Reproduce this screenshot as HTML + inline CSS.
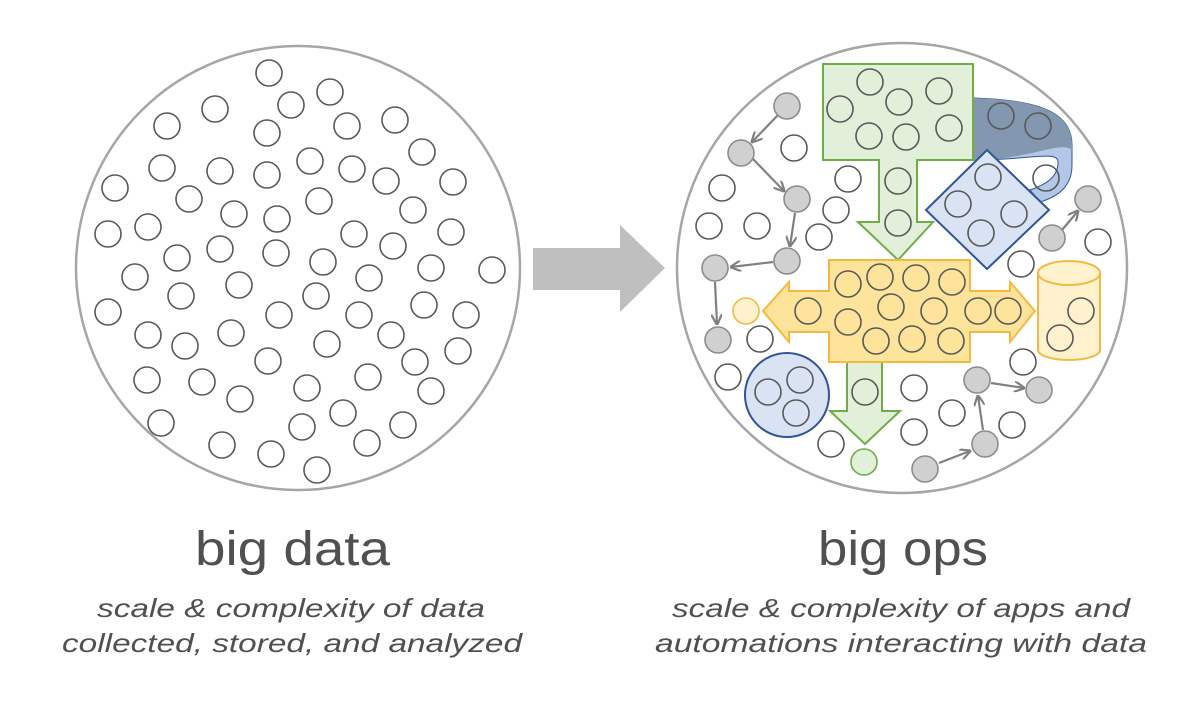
<!DOCTYPE html>
<html><head><meta charset="utf-8"><style>
html,body{margin:0;padding:0;background:#fff;}
svg{display:block;}
</style></head><body>
<svg width="1200" height="702" viewBox="0 0 1200 702" xmlns="http://www.w3.org/2000/svg">
<defs>
<marker id="ah" viewBox="0 0 10 10" refX="9" refY="5" markerWidth="5" markerHeight="5" orient="auto"><path d="M0,0 L10,5 L0,10" fill="none" stroke="#808080" stroke-width="2"/></marker>
</defs>
<circle cx="298" cy="268" r="222" fill="#fff" stroke="#a6a6a6" stroke-width="2.5"/>
<g fill="none" stroke="#595959" stroke-width="1.6">
<circle cx="269" cy="73" r="13"/><circle cx="330" cy="92" r="13"/><circle cx="291" cy="105" r="13"/><circle cx="215" cy="109" r="13"/><circle cx="167" cy="126" r="13"/><circle cx="267" cy="133" r="13"/><circle cx="347" cy="126" r="13"/><circle cx="395" cy="120" r="13"/><circle cx="422" cy="152" r="13"/><circle cx="162" cy="168" r="13"/><circle cx="220" cy="171" r="13"/><circle cx="267" cy="175" r="13"/><circle cx="310" cy="161" r="13"/><circle cx="352" cy="169" r="13"/><circle cx="386" cy="181" r="13"/><circle cx="453" cy="182" r="13"/><circle cx="115" cy="188" r="13"/><circle cx="189" cy="199" r="13"/><circle cx="234" cy="214" r="13"/><circle cx="277" cy="219" r="13"/><circle cx="319" cy="201" r="13"/><circle cx="413" cy="210" r="13"/><circle cx="108" cy="234" r="13"/><circle cx="148" cy="227" r="13"/><circle cx="451" cy="232" r="13"/><circle cx="354" cy="234" r="13"/><circle cx="393" cy="246" r="13"/><circle cx="177" cy="258" r="13"/><circle cx="220" cy="249" r="13"/><circle cx="276" cy="253" r="13"/><circle cx="323" cy="262" r="13"/><circle cx="431" cy="268" r="13"/><circle cx="492" cy="270" r="13"/><circle cx="135" cy="277" r="13"/><circle cx="369" cy="278" r="13"/><circle cx="239" cy="285" r="13"/><circle cx="181" cy="296" r="13"/><circle cx="316" cy="296" r="13"/><circle cx="108" cy="312" r="13"/><circle cx="424" cy="305" r="13"/><circle cx="466" cy="315" r="13"/><circle cx="279" cy="315" r="13"/><circle cx="359" cy="315" r="13"/><circle cx="148" cy="335" r="13"/><circle cx="185" cy="346" r="13"/><circle cx="231" cy="333" r="13"/><circle cx="327" cy="344" r="13"/><circle cx="391" cy="335" r="13"/><circle cx="458" cy="351" r="13"/><circle cx="268" cy="361" r="13"/><circle cx="415" cy="362" r="13"/><circle cx="147" cy="380" r="13"/><circle cx="202" cy="382" r="13"/><circle cx="307" cy="388" r="13"/><circle cx="368" cy="377" r="13"/><circle cx="431" cy="391" r="13"/><circle cx="240" cy="399" r="13"/><circle cx="161" cy="423" r="13"/><circle cx="343" cy="413" r="13"/><circle cx="302" cy="427" r="13"/><circle cx="403" cy="425" r="13"/><circle cx="222" cy="445" r="13"/><circle cx="271" cy="454" r="13"/><circle cx="367" cy="443" r="13"/><circle cx="317" cy="470" r="13"/>
</g>
<path d="M533,248 L620,248 L620,225 L665,268 L620,312 L620,290 L533,290 Z" fill="#bfbfbf"/>
<circle cx="902" cy="268" r="225" fill="#fff" stroke="#a6a6a6" stroke-width="2.5"/>
<!-- blue band -->
<path d="M973,98 C1045,100 1072,115 1072,145 L1072,165 C1072,185 1060,196 1040,202 L1030,190 C1050,183 1058,175 1058,162 C1058,150 1030,160 973,160 Z" fill="#b4c7e7" stroke="#2f5597" stroke-width="1"/>
<path d="M973,98 C1045,100 1072,115 1072,145 L1072,150 C1060,140 1030,160 973,160 Z" fill="#8497b0"/>
<g fill="none" stroke="#595959" stroke-width="1.6"><circle cx="1001" cy="116" r="13"/><circle cx="1038" cy="126" r="13"/><circle cx="1046" cy="178" r="13"/></g>
<path d="M823,64 L973,64 L973,160 L917,160 L917,222 L933,222 L898,260 L858,222 L879,222 L879,160 L823,160 Z" fill="#e2efd9" stroke="#70ad47" stroke-width="2"/>
<g fill="none" stroke="#595959" stroke-width="1.6"><circle cx="870" cy="82" r="13"/><circle cx="840" cy="109" r="13"/><circle cx="899" cy="102" r="13"/><circle cx="939" cy="91" r="13"/><circle cx="869" cy="136" r="13"/><circle cx="906" cy="137" r="13"/><circle cx="949" cy="128" r="13"/><circle cx="898" cy="181" r="13"/><circle cx="898" cy="223" r="13"/></g>
<path d="M987,150 L1049,210 L987,269 L926,210 Z" fill="#dae3f3" stroke="#2f5597" stroke-width="2"/>
<g fill="none" stroke="#595959" stroke-width="1.6"><circle cx="988" cy="177" r="13"/><circle cx="958" cy="204" r="13"/><circle cx="1014" cy="214" r="13"/><circle cx="981" cy="233" r="13"/></g>
<path d="M847,360 L882,360 L882,411 L900,411 L865,444 L830,411 L847,411 Z" fill="#e2efd9" stroke="#70ad47" stroke-width="2"/>
<circle cx="865" cy="392" r="13" fill="none" stroke="#595959" stroke-width="1.6"/>
<circle cx="864" cy="462" r="13" fill="#e2efd9" stroke="#70ad47" stroke-width="1.6"/>
<path d="M829,260 L970,260 L970,291 L1010,291 L1010,282 L1035,311 L1010,342 L1010,332 L970,332 L970,362 L829,362 L829,332 L789,332 L789,342 L763,311 L789,282 L789,291 L829,291 Z" fill="#fde49a" stroke="#f4b942" stroke-width="2"/>
<g fill="none" stroke="#595959" stroke-width="1.6"><circle cx="848" cy="284" r="13"/><circle cx="880" cy="277" r="13"/><circle cx="916" cy="278" r="13"/><circle cx="952" cy="282" r="13"/><circle cx="808" cy="311" r="13"/><circle cx="891" cy="307" r="13"/><circle cx="934" cy="311" r="13"/><circle cx="978" cy="311" r="13"/><circle cx="1008" cy="311" r="13"/><circle cx="848" cy="322" r="13"/><circle cx="876" cy="341" r="13"/><circle cx="912" cy="339" r="13"/><circle cx="951" cy="341" r="13"/></g>
<circle cx="746" cy="311" r="13" fill="#fff2cc" stroke="#f4b942" stroke-width="1.6"/>
<path d="M1038,273 L1038,350 A31,10 0 0 0 1100,350 L1100,273" fill="#fff2cc" stroke="#f4b942" stroke-width="2"/>
<ellipse cx="1069" cy="273" rx="31" ry="12" fill="#fff2cc" stroke="#f4b942" stroke-width="2"/>
<g fill="none" stroke="#595959" stroke-width="1.6"><circle cx="1081" cy="311" r="13"/><circle cx="1060" cy="338" r="13"/></g>
<circle cx="787" cy="395" r="42" fill="#dae3f3" stroke="#2f5597" stroke-width="2"/>
<g fill="none" stroke="#595959" stroke-width="1.6"><circle cx="800" cy="380" r="13"/><circle cx="768" cy="392" r="13"/><circle cx="796" cy="413" r="13"/></g>
<g fill="#fff" stroke="#595959" stroke-width="1.6"><circle cx="794" cy="148" r="13"/><circle cx="722" cy="188" r="13"/><circle cx="848" cy="179" r="13"/><circle cx="836" cy="210" r="13"/><circle cx="709" cy="226" r="13"/><circle cx="757" cy="226" r="13"/><circle cx="819" cy="237" r="13"/><circle cx="1021" cy="264" r="13"/><circle cx="1098" cy="242" r="13"/><circle cx="760" cy="339" r="13"/><circle cx="728" cy="377" r="13"/><circle cx="914" cy="388" r="13"/><circle cx="952" cy="413" r="13"/><circle cx="914" cy="432" r="13"/><circle cx="831" cy="444" r="13"/><circle cx="1023" cy="362" r="13"/><circle cx="1012" cy="425" r="13"/></g>
<g stroke="#808080" stroke-width="2.2" marker-end="url(#ah)">
<line x1="779" y1="114" x2="752" y2="142"/>
<line x1="753" y1="159" x2="784" y2="191"/>
<line x1="795" y1="213" x2="790" y2="246"/>
<line x1="773" y1="262" x2="731" y2="267"/>
<line x1="715" y1="282" x2="717" y2="324"/>
<line x1="1062" y1="230" x2="1078" y2="211"/>
<line x1="991" y1="383" x2="1024" y2="388"/>
<line x1="983" y1="430" x2="978" y2="396"/>
<line x1="939" y1="463" x2="970" y2="451"/>
</g>
<g fill="#d0d0d0" stroke="#8c8c8c" stroke-width="1.6"><circle cx="787" cy="106" r="13"/><circle cx="741" cy="153" r="13"/><circle cx="797" cy="199" r="13"/><circle cx="787" cy="261" r="13"/><circle cx="715" cy="268" r="13"/><circle cx="718" cy="340" r="13"/><circle cx="1088" cy="199" r="13"/><circle cx="1052" cy="238" r="13"/><circle cx="977" cy="380" r="13"/><circle cx="1039" cy="390" r="13"/><circle cx="985" cy="444" r="13"/><circle cx="925" cy="469" r="13"/></g>
<g fill="#505050" font-family="'Liberation Sans', sans-serif">
<text x="195" y="565" font-size="48" textLength="195" lengthAdjust="spacingAndGlyphs">big data</text>
<text x="818" y="565" font-size="48" textLength="170" lengthAdjust="spacingAndGlyphs">big ops</text>
<g font-style="italic" font-size="26">
<text x="97" y="617" textLength="388" lengthAdjust="spacingAndGlyphs">scale &amp; complexity of data</text>
<text x="62" y="652" textLength="460" lengthAdjust="spacingAndGlyphs">collected, stored, and analyzed</text>
<text x="672" y="617" textLength="458" lengthAdjust="spacingAndGlyphs">scale &amp; complexity of apps and</text>
<text x="655" y="652" textLength="492" lengthAdjust="spacingAndGlyphs">automations interacting with data</text>
</g>
</g>
</svg>
</body></html>
